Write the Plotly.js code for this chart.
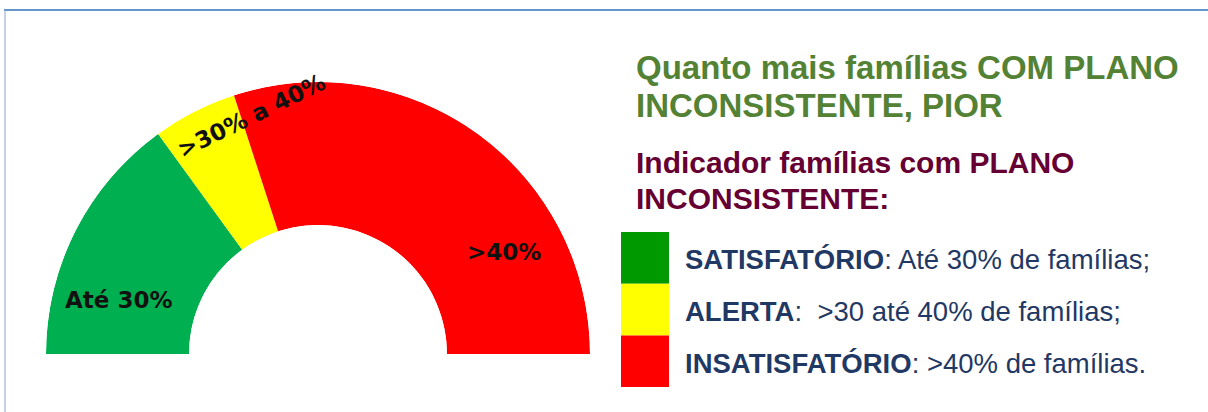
<!DOCTYPE html>
<html>
<head>
<meta charset="utf-8">
<script src="https://cdn.plot.ly/plotly-3.0.1.min.js"></script>
<style>html,body{margin:0;padding:0;background:#fff;}#chart{width:1208px;height:412px;}</style>
</head>
<body>
<div id="chart"></div>
<script>
// ---- data ----
const segmentLabels = ['Até 30%', '&gt;30% a 40%', '&gt;40%'];
const segmentShares = [30, 10, 60];            // share of the gauge (%)
const segmentColors = ['#00b050', '#ffff00', '#ff0000'];

const legendBold = ['SATISFATÓRIO', 'ALERTA', 'INSATISFATÓRIO'];
const legendRest = [': Até 30% de famílias;', ':\u00a0\u00a0&gt;30 até 40% de famílias;', ': &gt;40% de famílias.'];
const legendColors = ['#009900', '#ffff00', '#ff0000'];

const titleLines = ['Quanto mais famílias COM PLANO', 'INCONSISTENTE, PIOR'];
const subtitleLines = ['Indicador famílias com PLANO', 'INCONSISTENTE:'];

// ---- helpers ----
const W = 1208, H = 412;
const px = x => x / W;
const py = y => 1 - y / H;

// gauge geometry via polar bars (degrees over a 180° half circle)
const total = segmentShares.reduce((a, b) => a + b, 0);
let acc = 0;
const thetas = [], widths = [];
segmentShares.forEach(v => {
  const w = v / total * 180;
  thetas.push(acc + w / 2);
  widths.push(w);
  acc += w;
});

const trace = {
  type: 'barpolar',
  r: segmentShares.map(() => 1),
  theta: thetas,
  width: widths,
  marker: {color: segmentColors, line: {width: 0}},
  hoverinfo: 'skip',
  showlegend: false
};

const annotations = [];
// labels on the gauge
const segLabelPos = [
  {x: 118, y: 300, a: 0},
  {x: 251, y: 116, a: -26},
  {x: 504, y: 252, a: 0}
];
segmentLabels.forEach((t, i) => {
  annotations.push({
    xref: 'paper', yref: 'paper', x: px(segLabelPos[i].x), y: py(segLabelPos[i].y),
    xanchor: 'center', yanchor: 'middle', showarrow: false, textangle: segLabelPos[i].a,
    text: t, font: {family: 'DejaVu Sans', size: 23, color: '#111111', weight: 'bold'}
  });
});
// titles
const titleY = [67, 105];
titleLines.forEach((t, i) => annotations.push({
  xref: 'paper', yref: 'paper', x: px(634), y: py(titleY[i]), xanchor: 'left', yanchor: 'middle',
  showarrow: false, text: '<b>' + t + '</b>',
  font: {family: 'Liberation Sans, Arial', size: 33, color: '#548235'}
}));
const subY = [162, 198];
subtitleLines.forEach((t, i) => annotations.push({
  xref: 'paper', yref: 'paper', x: px(634), y: py(subY[i]), xanchor: 'left', yanchor: 'middle',
  showarrow: false, text: '<b>' + t + '</b>',
  font: {family: 'Liberation Sans, Arial', size: 30, color: '#660033'}
}));
// legend texts
const legY = [259, 311, 363];
legendBold.forEach((b, i) => annotations.push({
  xref: 'paper', yref: 'paper', x: px(683), y: py(legY[i]), xanchor: 'left', yanchor: 'middle',
  showarrow: false, text: '<b>' + b + '</b>' + legendRest[i],
  font: {family: 'Liberation Sans, Arial', size: 27.5, color: '#1f3864'}
}));

const shapes = [];
const sqTop = 232, sqH = 51.7;
legendColors.forEach((c, i) => shapes.push({
  type: 'rect', xref: 'paper', yref: 'paper', x0: px(621), x1: px(669),
  y0: py(sqTop + sqH * i), y1: py(sqTop + sqH * (i + 1)),
  fillcolor: c, line: {width: 0}
}));
// frame lines
shapes.push({type: 'line', xref: 'paper', yref: 'paper', x0: px(4), x1: 1, y0: py(10), y1: py(10),
  line: {color: '#2e75b6', width: 1.5}});
shapes.push({type: 'line', xref: 'paper', yref: 'paper', x0: px(5), x1: px(5), y0: py(10), y1: 0,
  line: {color: '#8fa3c6', width: 1}});

const R = 272, cx = 318, cy = 354;
const layout = {
  width: W, height: H,
  margin: {l: 0, r: 0, t: 0, b: 0},
  paper_bgcolor: '#ffffff',
  showlegend: false,
  polar: {
    domain: {x: [px(cx - R), px(cx + R)], y: [py(cy), py(cy - R)]},
    sector: [0, 180],
    hole: 0.474,
    bgcolor: 'rgba(0,0,0,0)',
    radialaxis: {visible: false, range: [0, 1], showgrid: false, showline: false, showticklabels: false, ticks: ''},
    angularaxis: {visible: false, rotation: 180, direction: 'clockwise', showgrid: false, showline: false,
      showticklabels: false, ticks: ''}
  },
  annotations: annotations,
  shapes: shapes
};

Plotly.newPlot('chart', [trace], layout, {displayModeBar: false, staticPlot: true});
</script>
</body>
</html>
